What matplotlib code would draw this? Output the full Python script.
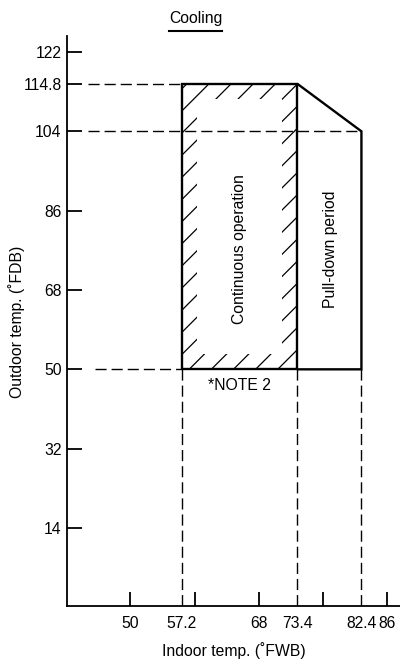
import matplotlib
matplotlib.use("Agg")
import matplotlib.pyplot as plt
import numpy as np
from matplotlib.path import Path
from matplotlib.patches import PathPatch
from matplotlib.lines import Line2D

plt.rcParams['font.family'] = ['Liberation Sans', 'DejaVu Sans']
FS = 11.3

# ---- data ----
indoor_min = 57.2          # lower indoor limit (°FWB)
indoor_cont_max = 73.4     # continuous operation upper indoor limit
indoor_pull_max = 82.4     # pull-down period upper indoor limit
outdoor_min = 50.0         # lower outdoor limit (°FDB)
outdoor_max = 114.8        # upper outdoor limit
outdoor_pull_max = 104.0   # outdoor limit at pull-down max

y_ticks = [14, 32, 50, 68, 86, 104, 114.8, 122]
y_tick_labels = ['14', '32', '50', '68', '86', '104', '114.8', '122']
x_major_ticks = [50, 59, 68, 77, 86]
x_major_labels = ['50', '', '68', '', '86']
x_marked = [57.2, 73.4, 82.4]
x_marked_labels = ['57.2', '73.4', '82.4']

title = 'Cooling'
xlabel = 'Indoor temp. (˚FWB)'
ylabel = 'Outdoor temp. (˚FDB)'
label_cont = 'Continuous operation'
label_pull = 'Pull-down period'
note = '*NOTE 2'

# ---- figure ----
W, H = 400, 664
fig = plt.figure(figsize=(W / 100, H / 100), dpi=100)
ax = fig.add_axes([67 / W, 58 / H, 333 / W, 570 / H])
xlim = (41.11, 87.81)
ylim = (-3.70, 125.63)
ax.set_xlim(*xlim)
ax.set_ylim(*ylim)

for s in ['top', 'right']:
    ax.spines[s].set_visible(False)
for s in ['left', 'bottom']:
    ax.spines[s].set_linewidth(1.3)

ax.set_yticks(y_ticks)
ax.set_yticklabels(y_tick_labels)
ax.set_xticks(x_major_ticks)
ax.set_xticklabels(x_major_labels)
ax.set_xticks(x_marked, minor=True)
ax.set_xticklabels(x_marked_labels, minor=True)
ax.tick_params(axis='y', which='major', direction='in', length=11, width=1.3,
               pad=3.8, labelsize=FS)
ax.tick_params(axis='x', which='major', direction='in', length=10, width=1.3,
               pad=7, labelsize=FS)
ax.tick_params(axis='x', which='minor', direction='in', length=0, width=0,
               pad=7, labelsize=FS)

# ---- dashed guide lines ----
dash = dict(color='black', lw=1.0, linestyle=(0, (8, 3.6)))
ax.plot([44.0, indoor_min], [outdoor_max, outdoor_max], **dash)
ax.plot([44.0, indoor_pull_max], [outdoor_pull_max, outdoor_pull_max], **dash)
ax.plot([45.0, indoor_min], [outdoor_min, outdoor_min], **dash)
for xv in x_marked:
    ax.plot([xv, xv], [outdoor_min, ylim[0]], **dash)

# ---- hatching along the inner border of the continuous operation box ----
sx = ax.bbox.width / (xlim[1] - xlim[0])    # px per unit
sy = ax.bbox.height / (ylim[1] - ylim[0])
inset = 15.0
dxi, dyi = inset / sx, inset / sy
x0, x1 = indoor_min, indoor_cont_max
y0, y1 = outdoor_min, outdoor_max
verts = [(x0, y0), (x1, y0), (x1, y1), (x0, y1), (x0, y0),
         (x0 + dxi, y0 + dyi), (x0 + dxi, y1 - dyi), (x1 - dxi, y1 - dyi),
         (x1 - dxi, y0 + dyi), (x0 + dxi, y0 + dyi)]
codes = [Path.MOVETO, Path.LINETO, Path.LINETO, Path.LINETO, Path.CLOSEPOLY,
         Path.MOVETO, Path.LINETO, Path.LINETO, Path.LINETO, Path.CLOSEPOLY]
frame = PathPatch(Path(verts, codes), facecolor='none', edgecolor='none',
                  transform=ax.transData)
ax.add_patch(frame)
Wpx = (x1 - x0) * sx
Hpx = (y1 - y0) * sy
spacing = 22.14
c = -5.2
while c > -(Wpx + Hpx) - spacing:
    # line v = u + c in pixel coords relative to top-left corner (u right, v up)
    u = np.array([-20.0, Wpx + Hpx + 20])
    v = u + c
    xs = x0 + u / sx
    ys = y1 + v / sy
    ln, = ax.plot(xs, ys, color='black', lw=0.9)
    ln.set_clip_path(frame)
    c -= spacing

# ---- region outlines ----
solid = dict(color='black', lw=1.7, solid_joinstyle='miter', solid_capstyle='butt')
ax.plot([x0, x0, x1, x1, x0], [y0, y1, y1, y0, y0], **solid)
ax.plot([indoor_cont_max, indoor_pull_max, indoor_pull_max, indoor_cont_max],
        [outdoor_max, outdoor_pull_max, outdoor_min, outdoor_min], **solid)

# ---- labels inside ----
ax.text((x0 + x1) / 2, 77.3, label_cont, rotation=90, ha='center', va='center',
        fontsize=FS)
ax.text((indoor_cont_max + indoor_pull_max) / 2 + 0.2, 77.3, label_pull,
        rotation=90, ha='center', va='center', fontsize=FS)
ax.text((x0 + x1) / 2, 46.3, note, ha='center', va='center', fontsize=FS)

# ---- axis titles ----
fig.text(233.5 / W, 1 - 650.5 / H, xlabel, ha='center', va='center', fontsize=FS)
fig.text(16.7 / W, 1 - 322 / H, ylabel, ha='center', va='center', rotation=90,
         fontsize=FS)

t = fig.text(195.7 / W, 1 - 22.5 / H, title, ha='center', va='baseline', fontsize=FS)
fig.canvas.draw()
bb = t.get_window_extent()
uy = 1 - 30.7 / H
fig.add_artist(Line2D([bb.x0 / W, bb.x1 / W], [uy, uy], color='black', lw=1.5,
                      transform=fig.transFigure))

fig.savefig('out.png', dpi=100)
